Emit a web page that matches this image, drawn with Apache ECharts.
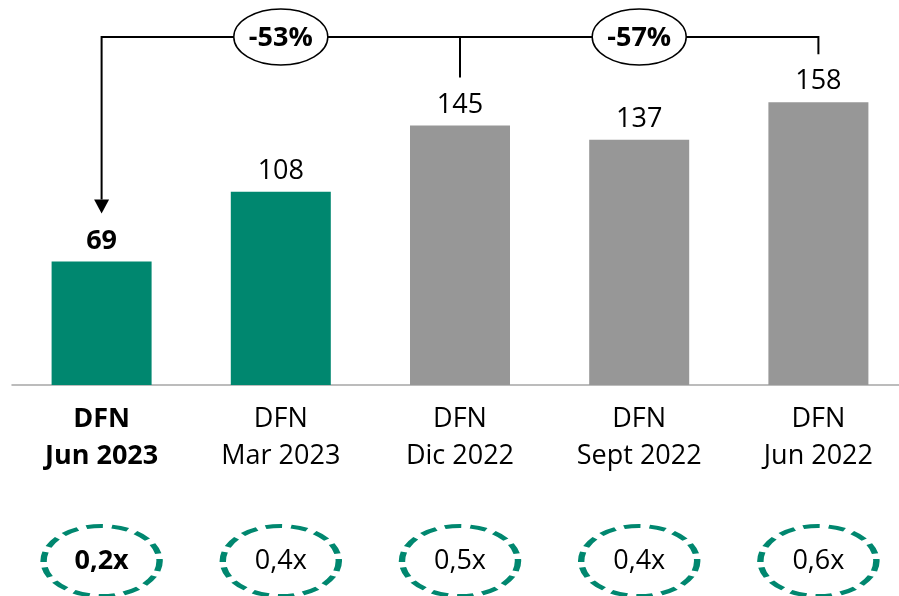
<!DOCTYPE html>
<html><head><meta charset="utf-8">
<script src="https://cdn.jsdelivr.net/npm/echarts@6/dist/echarts.min.js"></script>
<style>html,body{margin:0;padding:0;background:#fff}#c{width:899px;height:596px}</style>
</head><body><div id="c"></div>
<script>
const categories = ['DFN\nJun 2023','DFN\nMar 2023','DFN\nDic 2022','DFN\nSept 2022','DFN\nJun 2022'];
const values = [69, 108, 145, 137, 158];
const multiples = ['0,2x','0,4x','0,5x','0,4x','0,6x'];
const changes = ['-53%','-57%'];

const TEAL = '#00876F', GRAY = '#979797';
const FONT = 'Open Sans';
const FS = 27;
const chart = echarts.init(document.getElementById('c'));

const barData = values.map((v,i)=>({value:v,itemStyle:{color:i<2?TEAL:GRAY},
  label:{fontWeight:i===0?'bold':'normal'}}));

chart.setOption({
  animation:false,
  grid:[{left:12,right:-9,top:27,height:358,outerBoundsMode:'none',containLabel:false},
        {left:12,right:-9,top:525,height:72,outerBoundsMode:'none',containLabel:false}],
  xAxis:[{type:'category',gridIndex:0,data:categories,
    axisLine:{lineStyle:{color:'#A6A6A6',width:1.5}},axisTick:{show:false},
    axisLabel:{margin:16,interval:0,fontFamily:FONT,fontSize:FS,color:'#000',lineHeight:37,
      formatter:(v,i)=>{const p=v.split('\n');return i===0?'{b|'+p[0]+'}\n{b|'+p[1]+'}':v;},
      rich:{b:{fontWeight:'bold',fontFamily:FONT,fontSize:FS,color:'#000',lineHeight:37}}}},
    {type:'category',gridIndex:1,data:categories,show:false}],
  yAxis:[{type:'value',gridIndex:0,min:0,max:200,show:false,splitLine:{show:false}},
    {type:'value',gridIndex:1,min:-1,max:1,show:false}],
  series:[
    {type:'bar',data:barData,barWidth:100,xAxisIndex:0,yAxisIndex:0,
     label:{show:true,position:'top',distance:7,fontFamily:FONT,fontSize:FS,color:'#000'}},
    {type:'scatter',xAxisIndex:1,yAxisIndex:1,symbol:'circle',symbolSize:[116,70],
     data:multiples.map((m,i)=>({value:[i,0],name:m,label:{fontWeight:i===0?'bold':'normal'}})),
     itemStyle:{color:'#fff',borderColor:TEAL,borderWidth:5,borderType:[13,7],opacity:1},
     label:{show:true,position:'inside',formatter:p=>p.name,fontFamily:FONT,fontSize:FS,color:'#000'}},
    {type:'custom',xAxisIndex:0,yAxisIndex:0,clip:false,data:[0],z:5,
     renderItem:(params,api)=>{
       const top = i=>api.coord([i,values[i]]);
       const p0=top(0),p2=top(2),p4=top(4);
       const Y=37, gap=48;
       const ls={stroke:'#000',lineWidth:2,fill:null};
       const ell=(cx,t)=>[
         {type:'ellipse',shape:{cx:cx,cy:Y,rx:47,ry:28},style:{fill:'#fff',stroke:'#000',lineWidth:1.5},z2:2},
         {type:'text',style:{text:t,x:cx,y:Y+1,textAlign:'center',textVerticalAlign:'middle',
           font:'bold '+FS+'px "'+FONT+'"',fill:'#000'},z2:3}];
       const c1=(p0[0]+p2[0])/2, c2=(p2[0]+p4[0])/2;
       return {type:'group',children:[
         {type:'polyline',shape:{points:[[p0[0],p0[1]-gap-14],[p0[0],Y],[p4[0],Y],[p4[0],p4[1]-gap]]},style:ls},
         {type:'line',shape:{x1:p2[0],y1:Y,x2:p2[0],y2:p2[1]-gap},style:ls},
         {type:'polygon',shape:{points:[[p0[0]-7.5,p0[1]-gap-14],[p0[0]+7.5,p0[1]-gap-14],[p0[0],p0[1]-gap]]},style:{fill:'#000'}},
         ...ell(c1,changes[0]),...ell(c2,changes[1])
       ]};
     }}
  ]
});
</script></body></html>
